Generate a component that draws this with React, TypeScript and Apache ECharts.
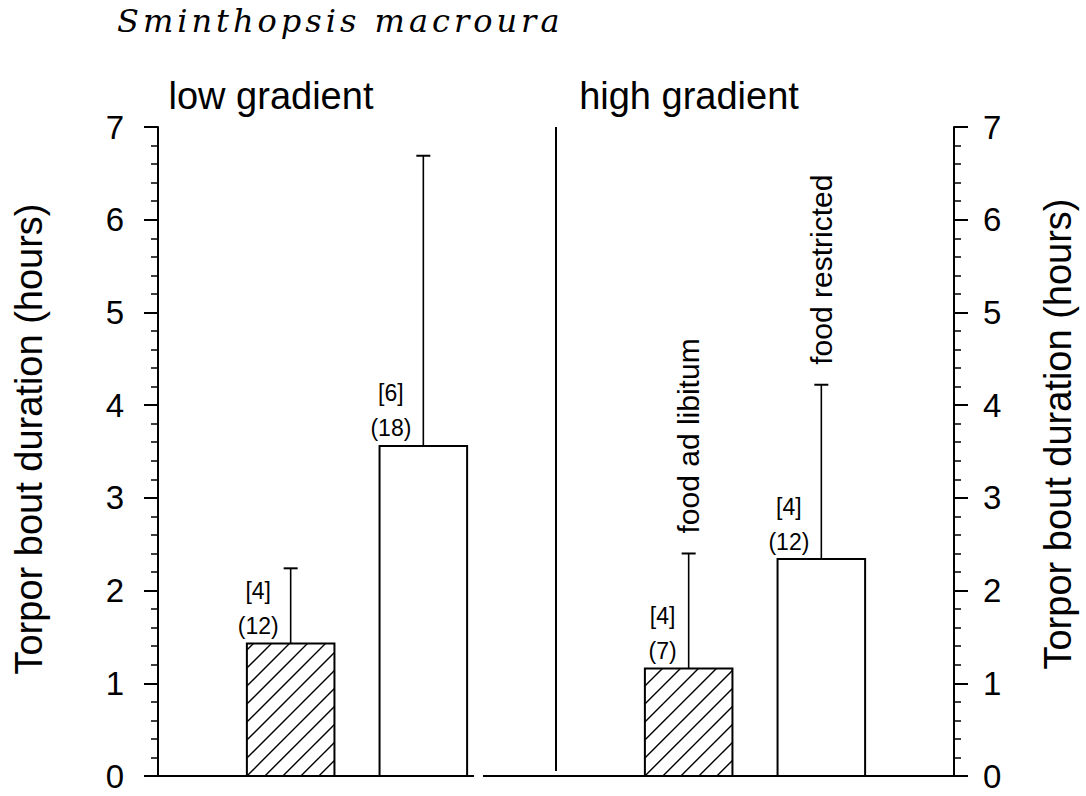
import React, { useEffect, useRef } from "react";
import * as echarts from "echarts";

// Torpor bout duration of Sminthopsis macroura on two thermal gradients
const species = "Sminthopsis macroura";
const gradients = ["low gradient", "high gradient"];
const treatments = ["food ad libitum", "food restricted"];
const yAxisTitle = "Torpor bout duration (hours)";

// x slots on the value axis: two bars per gradient, divider in between
const barSlots = [1, 2, 4, 5];
const dividerSlot = 3;
const barTreatment = [0, 1, 0, 1]; // 0 = ad libitum (hatched), 1 = restricted (open)
const meanHours = [1.43, 3.56, 1.16, 2.34];
const upperHours = [2.24, 6.69, 2.4, 4.22]; // mean + SD
const animalCounts = [4, 6, 4, 4];
const boutCounts = [12, 18, 7, 12];
const showTreatmentName = [false, false, true, true];

const yMin = 0;
const yMax = 7;
const yStep = 1;

const SANS = "'Liberation Sans', Arial, Helvetica, sans-serif";
const BAR_WIDTH = 0.66; // in x-axis units
const HATCH_STEP = 18;
const BASE_Y = 776;

export default function App() {
  const ref = useRef<HTMLDivElement>(null);

  useEffect(() => {
    if (!ref.current) return;
    const chart = echarts.init(ref.current, null, { renderer: "svg" });

    const barData = barSlots.map((s, i) => [s, meanHours[i], barTreatment[i] === 0 ? 1 : 0]);
    const errData = barSlots.map((s, i) => [s, meanHours[i], upperHours[i]]);

    const axisCommon = {
      type: "value",
      min: yMin,
      max: yMax,
      interval: yStep,
      axisLine: { show: true, lineStyle: { color: "#000", width: 2 } },
      axisTick: { show: true, length: 14, lineStyle: { color: "#000", width: 2 } },
      minorTick: { show: true, splitNumber: 5, length: 7, lineStyle: { color: "#000", width: 1.5 } },
      splitLine: { show: false },
      minorSplitLine: { show: false },
    };

    const option: any = {
      animation: false,
      backgroundColor: "#fff",
      grid: { left: 158, right: 132, top: 127, bottom: 796 - BASE_Y },
      xAxis: { type: "value", min: 0, max: 6, show: false },
      yAxis: [
        {
          ...axisCommon,
          position: "left",
          axisLabel: { margin: 34, fontSize: 33, lineHeight: 26, color: "#000", fontFamily: SANS },
        },
        {
          ...axisCommon,
          position: "right",
          axisLabel: { margin: 29, fontSize: 33, lineHeight: 26, color: "#000", fontFamily: SANS },
        },
      ],
      graphic: [
        {
          type: "text",
          left: 117,
          top: 5,
          style: {
            text: species,
            fontFamily: "DejaVu Serif",
            fontStyle: "italic",
            fontSize: 32,
            fill: "#000",
          },
        },
        {
          type: "text",
          x: 271,
          y: 96,
          style: { text: gradients[0], fontFamily: SANS, fontSize: 38, fill: "#000", align: "center", verticalAlign: "middle" },
        },
        {
          type: "text",
          x: 689,
          y: 96,
          style: { text: gradients[1], fontFamily: SANS, fontSize: 38, fill: "#000", align: "center", verticalAlign: "middle" },
        },
        {
          type: "text",
          x: 29,
          y: 439,
          rotation: Math.PI / 2,
          style: { text: yAxisTitle, fontFamily: SANS, fontSize: 38, fill: "#000", align: "center", verticalAlign: "middle" },
        },
        {
          type: "text",
          x: 1058,
          y: 434,
          rotation: Math.PI / 2,
          style: { text: yAxisTitle, fontFamily: SANS, fontSize: 38, fill: "#000", align: "center", verticalAlign: "middle" },
        },
        // baseline, broken between the two gradients
        { type: "line", shape: { x1: 145, y1: BASE_Y, x2: 474, y2: BASE_Y }, style: { stroke: "#000", lineWidth: 2 } },
        { type: "line", shape: { x1: 483, y1: BASE_Y, x2: 968, y2: BASE_Y }, style: { stroke: "#000", lineWidth: 2 } },
      ],
      series: [
        {
          type: "custom",
          name: "divider",
          data: [[dividerSlot]],
          renderItem: (_p: any, api: any) => {
            const top = api.coord([api.value(0), yMax]);
            const bot = api.coord([api.value(0), yMin]);
            return {
              type: "line",
              shape: { x1: top[0], y1: top[1], x2: bot[0], y2: bot[1] - 5 },
              style: { stroke: "#000", lineWidth: 2 },
            };
          },
        },
        {
          type: "custom",
          name: "bars",
          data: barData,
          renderItem: (_p: any, api: any) => {
            const x = api.value(0);
            const y = api.value(1);
            const hatched = api.value(2) === 1;
            const half = api.size([BAR_WIDTH, 0])[0] / 2;
            const top = api.coord([x, y]);
            const base = api.coord([x, yMin]);
            const x0 = top[0] - half;
            const x1 = top[0] + half;
            const y0 = top[1];
            const y1 = base[1];
            const children: any[] = [
              { type: "rect", shape: { x: x0, y: y0, width: x1 - x0, height: y1 - y0 }, style: { fill: "#fff", stroke: null } },
            ];
            if (hatched) {
              const c0 = x0 + y1;
              const cMin = x0 + y0;
              const cMax = x1 + y1;
              const kMin = Math.ceil((cMin - c0) / HATCH_STEP);
              const kMax = Math.floor((cMax - c0) / HATCH_STEP);
              for (let k = kMin; k <= kMax; k++) {
                const c = c0 + k * HATCH_STEP;
                const xa = Math.max(x0, c - y1);
                const xb = Math.min(x1, c - y0);
                if (xb - xa < 0.5) continue;
                children.push({
                  type: "line",
                  shape: { x1: xa, y1: c - xa, x2: xb, y2: c - xb },
                  style: { stroke: "#000", lineWidth: 1.4 },
                });
              }
            }
            children.push({
              type: "rect",
              shape: { x: x0, y: y0, width: x1 - x0, height: y1 - y0 },
              style: { fill: "none", stroke: "#000", lineWidth: 2 },
            });
            return { type: "group", children };
          },
        },
        {
          type: "custom",
          name: "errors",
          data: errData,
          renderItem: (p: any, api: any) => {
            const i = p.dataIndex;
            const x = api.value(0);
            const lo = api.coord([x, api.value(1)]);
            const hi = api.coord([x, api.value(2)]);
            const ex = lo[0];
            const children: any[] = [
              { type: "line", shape: { x1: ex, y1: lo[1], x2: ex, y2: hi[1] }, style: { stroke: "#000", lineWidth: 1.6 } },
              { type: "line", shape: { x1: ex - 7, y1: hi[1], x2: ex + 7, y2: hi[1] }, style: { stroke: "#000", lineWidth: 2 } },
              {
                type: "text",
                x: ex - 12,
                y: lo[1],
                style: {
                  text: `{a|[${animalCounts[i]}]}\n{a|(${boutCounts[i]})}`,
                  align: "right",
                  verticalAlign: "bottom",
                  fill: "#000",
                  rich: { a: { align: "center", fontSize: 23, fontFamily: SANS, lineHeight: 35, fill: "#000" } },
                },
              },
            ];
            if (showTreatmentName[i]) {
              children.push({
                type: "text",
                x: ex,
                y: hi[1] - 20,
                rotation: Math.PI / 2,
                style: {
                  text: treatments[barTreatment[i]],
                  fontFamily: SANS,
                  fontSize: 30,
                  fill: "#000",
                  align: "left",
                  verticalAlign: "middle",
                },
              });
            }
            return { type: "group", children };
          },
        },
      ],
    };

    chart.setOption(option);
    return () => chart.dispose();
  }, []);

  return (
    <>
      <style>{`#torpor-chart text[style*="DejaVu Serif"]{letter-spacing:4px}`}</style>
      <div
        id="torpor-chart"
        ref={ref}
        style={{ position: "absolute", left: 0, top: 0, width: 1086, height: 796, background: "#fff" }}
      />
    </>
  );
}
